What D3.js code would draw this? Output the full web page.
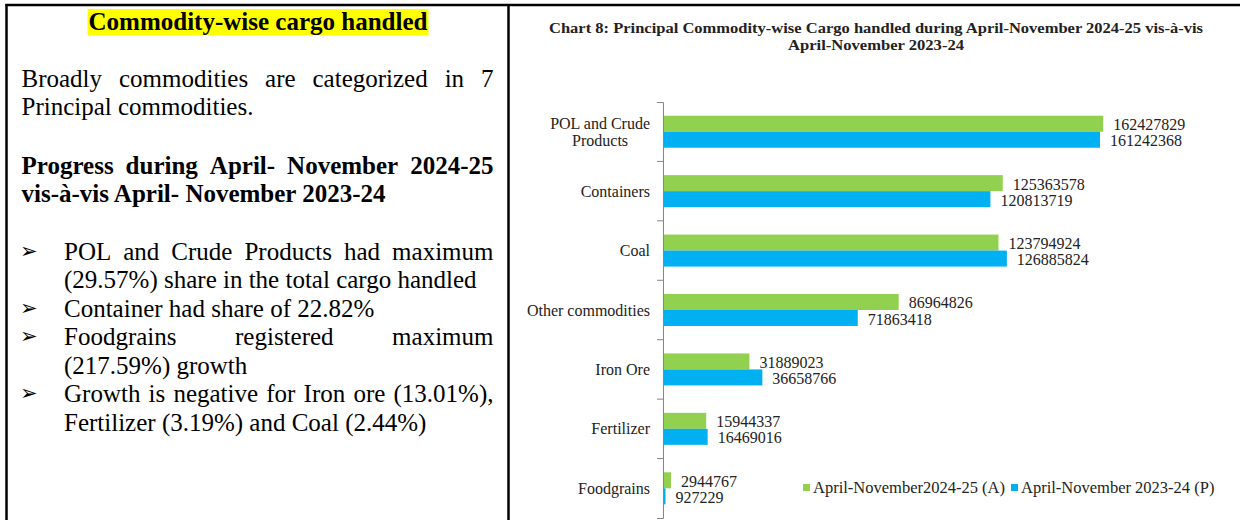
<!DOCTYPE html>
<html lang="en">
<head>
  <meta charset="UTF-8" />
  <title>Commodity-wise cargo handled</title>
  <style>
    body { margin: 0; background: #fff; }
    svg { display: block; font-family: 'Liberation Serif', 'Times New Roman', serif; }
    .panel text { fill: #000; font-size: 25px; }
    .panel .bold { font-weight: bold; }
    .panel .arrow { font-family: 'DejaVu Sans', sans-serif; font-size: 21px; }
    .chart-title { font-weight: bold; font-size: 15px; fill: #222; }
    .cat { font-size: 16px; fill: #222; }
    .val { font-size: 16px; fill: #222; }
    .legend text { font-size: 16.5px; fill: #222; }
    .axis path, .axis line { stroke: #868686; }
  </style>
</head>
<body>
<svg width="1240" height="520"></svg>
<script src="https://d3js.org/d3.v7.min.js"></script>
<script>
// --- data
const categories = ["POL and Crude Products", "Containers", "Coal", "Other commodities", "Iron Ore", "Fertilizer", "Foodgrains"];
const catLines = [["POL and Crude", "Products"], ["Containers"], ["Coal"], ["Other commodities"], ["Iron Ore"], ["Fertilizer"], ["Foodgrains"]];
const cur2425 = [162427829, 125363578, 123794924, 86964826, 31889023, 15944337, 2944767];
const prev2324 = [161242368, 120813719, 126885824, 71863418, 36658766, 16469016, 927229];
const seriesNames = ["April-November2024-25 (A)", "April-November 2023-24 (P)"];
const seriesColors = ["#92D050", "#00B0F0"];
const chartTitle = ["Chart 8: Principal Commodity-wise Cargo handled  during April-November 2024-25 vis-\u00e0-vis", "April-November 2023-24"];

// left panel text
const panelTitle = "Commodity-wise cargo handled";
const introLines = [["Broadly commodities are categorized in 7", true], ["Principal commodities.", false]];
const headLines = [["Progress during April- November 2024-25", true], ["vis-\u00e0-vis April- November 2023-24", false]];
const bullets = [
  [["POL and Crude Products had maximum", true], ["(29.57%) share in the total cargo handled", false]],
  [["Container had share of 22.82%", false]],
  [["Foodgrains registered maximum", true], ["(217.59%) growth", false]],
  [["Growth is negative for Iron ore (13.01%),", true], ["Fertilizer (3.19%) and Coal (2.44%)", false]]
];

const svg = d3.select("svg");

// --- table borders
const borders = svg.append("g").attr("stroke", "#000").attr("stroke-width", 2.5);
borders.append("line").attr("x1", 5.5).attr("x2", 1240).attr("y1", 5).attr("y2", 5);
borders.append("line").attr("x1", 6.5).attr("x2", 6.5).attr("y1", 4).attr("y2", 520);
borders.append("line").attr("x1", 508.5).attr("x2", 508.5).attr("y1", 4).attr("y2", 520);

// --- left panel
const panel = svg.append("g").attr("class", "panel");

// write a line, spreading words to fill [x0, x1] when justified
function writeLine(txt, x0, x1, y, justify, bold) {
  const words = txt.split(" ");
  if (!justify) {
    panel.append("text").attr("class", bold ? "bold" : null)
      .attr("x", x0).attr("y", y).text(txt);
    return;
  }
  const nodes = words.map(w => panel.append("text").attr("class", bold ? "bold" : null).attr("y", y).text(w));
  const widths = nodes.map(n => n.node().getComputedTextLength());
  const gap = (x1 - x0 - d3.sum(widths)) / (words.length - 1);
  let x = x0;
  nodes.forEach((n, i) => { n.attr("x", x); x += widths[i] + gap; });
}

const titleText = panel.append("text").attr("class", "bold")
  .attr("x", 258).attr("y", 30).attr("text-anchor", "middle").text(panelTitle);
const tb = titleText.node().getBBox();
panel.insert("rect", "text").attr("x", tb.x - 1).attr("y", 9).attr("width", tb.width + 2).attr("height", 26)
  .attr("fill", "#FFFF00");

const L = 21.5, R = 493.5, bulletX = 64;
writeLine(introLines[0][0], L, R, 87, introLines[0][1], false);
writeLine(introLines[1][0], L, R, 115, introLines[1][1], false);
writeLine(headLines[0][0], L, R, 174, headLines[0][1], true);
writeLine(headLines[1][0], L, R, 201.5, headLines[1][1], true);

let by = 259.5;
bullets.forEach(b => {
  panel.append("text").attr("class", "arrow").attr("x", 20).attr("y", by - 2).text("\u27A2");
  b.forEach(([t, j]) => {
    writeLine(t, bulletX, R, by, j, false);
    by += 28.5;
  });
});

// --- chart
const x = d3.scaleLinear().domain([0, 200000000]).range([663, 1205]);
const y = d3.scaleBand().domain(categories).range([102, 518]);
const ySub = d3.scaleBand().domain([0, 1]).range([0, y.bandwidth()]).paddingOuter(0.857);

const cg = svg.append("g");
chartTitle.forEach((t, i) => {
  cg.append("text").attr("class", "chart-title")
    .attr("x", 876).attr("y", 33 + i * 17).attr("text-anchor", "middle")
    .attr("textLength", i === 0 ? 654 : 176).attr("lengthAdjust", "spacingAndGlyphs")
    .text(t);
});

const rows = categories.map((c, i) => ({ cat: c, vals: [cur2425[i], prev2324[i]], lines: catLines[i] }));

// bars
rows.forEach(r => {
  r.vals.forEach((v, s) => {
    cg.append("rect")
      .attr("x", x(0)).attr("y", y(r.cat) + ySub(s))
      .attr("width", x(v) - x(0)).attr("height", ySub.bandwidth())
      .attr("fill", seriesColors[s]);
    cg.append("text").attr("class", "val")
      .attr("x", x(v) + 10).attr("y", y(r.cat) + ySub(s) + ySub.bandwidth() / 2 + 1)
      .attr("dominant-baseline", "central")
      .text(v);
  });
});

// axis: line with ticks at band edges
const axisG = cg.append("g").attr("class", "axis").attr("transform", `translate(${x(0)},0)`)
  .call(d3.axisLeft(y).tickSize(0).tickSizeOuter(6).tickFormat(""));
axisG.selectAll(".edge").data(categories.slice(1)).join("line").attr("class", "edge")
  .attr("x1", -6).attr("x2", 0).attr("y1", d => y(d)).attr("y2", d => y(d));

// category labels
rows.forEach(r => {
  const cy = y(r.cat) + y.bandwidth() / 2;
  const n = r.lines.length;
  const first = cg.append("text").attr("class", "cat").attr("text-anchor", "end")
    .attr("x", 650).attr("y", cy - (n - 1) * 8.5).attr("dominant-baseline", "central").text(r.lines[0]);
  if (n > 1) {
    const w = first.node().getComputedTextLength();
    cg.append("text").attr("class", "cat").attr("text-anchor", "middle")
      .attr("x", 650 - w / 2).attr("y", cy + 8.5).attr("dominant-baseline", "central").text(r.lines[1]);
  }
});

// legend
const legend = cg.append("g").attr("class", "legend");
const legX = [803, 1011];
seriesNames.forEach((s, i) => {
  legend.append("rect").attr("x", legX[i]).attr("y", 484).attr("width", 7).attr("height", 7).attr("fill", seriesColors[i]);
  legend.append("text").attr("x", legX[i] + 10).attr("y", 493).text(s);
});
</script>
</body>
</html>
